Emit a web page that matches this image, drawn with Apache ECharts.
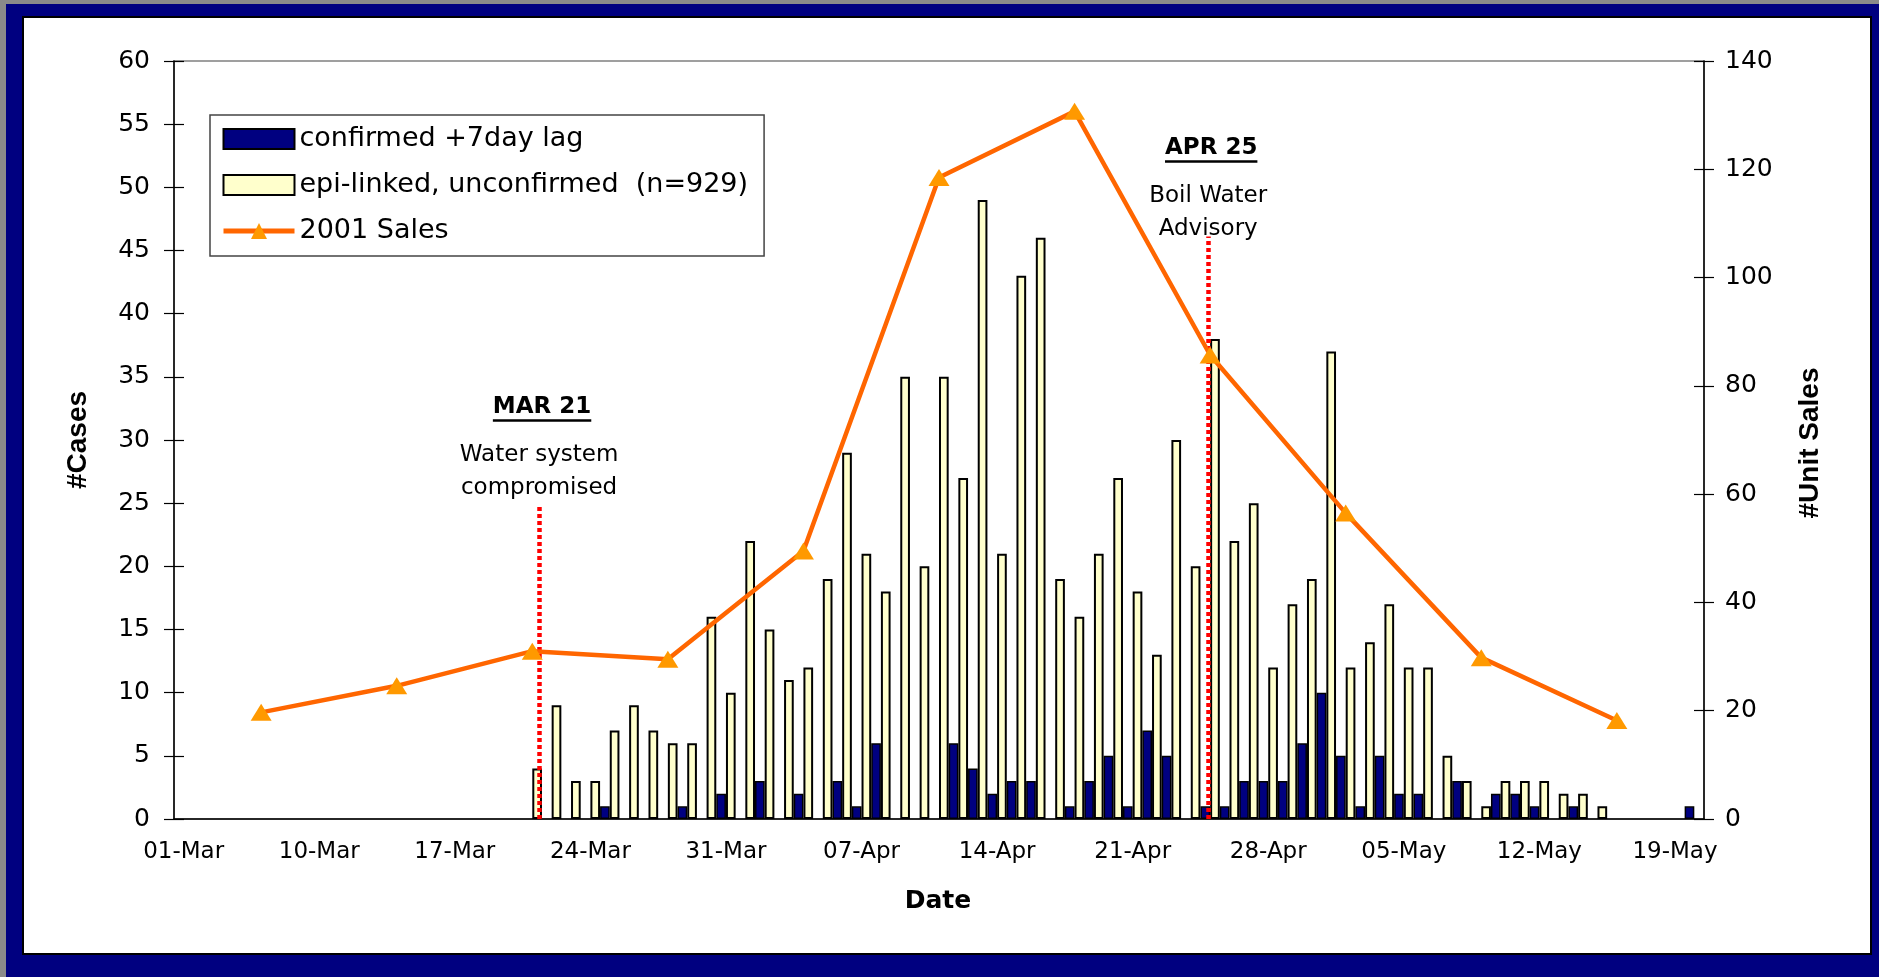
<!DOCTYPE html>
<html>
<head>
<meta charset="utf-8">
<script src="https://cdn.jsdelivr.net/npm/echarts@6/dist/echarts.min.js"></script>
<style>
html,body{margin:0;padding:0;width:1879px;height:977px;overflow:hidden;background:#000080;}
#edgeTop{position:absolute;left:0;top:0;width:1879px;height:4px;background:#8a8a8a;}
#edgeLeft{position:absolute;left:0;top:0;width:6px;height:977px;background:#8a8a8a;}
#panel{position:absolute;left:22px;top:16px;width:1846px;height:935px;background:#fff;border:2px solid #000;}
#chart{position:absolute;left:0;top:0;width:1879px;height:977px;}
</style>
</head>
<body>
<div id="edgeTop"></div>
<div id="edgeLeft"></div>
<div id="panel"></div>
<div id="chart"></div>
<script>
// ---- data ----
const categories = [
 '01-Mar','04-Mar','05-Mar','06-Mar','07-Mar','08-Mar','09-Mar','10-Mar','11-Mar','12-Mar','13-Mar','14-Mar','15-Mar','16-Mar','17-Mar',
 '18-Mar','19-Mar','20-Mar','21-Mar','22-Mar','23-Mar','24-Mar','25-Mar','26-Mar','27-Mar','28-Mar','29-Mar','30-Mar','31-Mar',
 '01-Apr','02-Apr','03-Apr','04-Apr','05-Apr','06-Apr','07-Apr','08-Apr','09-Apr','10-Apr','11-Apr','12-Apr','13-Apr','14-Apr','15-Apr',
 '16-Apr','17-Apr','18-Apr','19-Apr','20-Apr','21-Apr','22-Apr','23-Apr','24-Apr','25-Apr','26-Apr','27-Apr','28-Apr','29-Apr','30-Apr',
 '01-May','02-May','03-May','04-May','05-May','06-May','07-May','08-May','09-May','10-May','11-May','12-May','13-May','14-May','15-May',
 '16-May','17-May','18-May','19-May','20-May'
];
const confirmed = [
 0,0,0,0,0,0,0,0,0,0,0,0,0,0,0,0,0,0,
 0,0,0,0,1,0,0,0,1,0,2,0,
 3,0,2,0,3,1,6,0,0,0,6,4,
 2,3,3,0,1,3,5,1,7,5,0,1,
 1,3,3,3,6,10,5,1,5,2,2,0,
 3,0,2,2,1,0,1,0,0,0,0,0,1
];
const epiLinked = [
 0,0,0,0,0,0,0,0,0,0,0,0,0,0,0,0,0,0,
 4,9,3,3,7,9,7,6,6,16,10,22,
 15,11,12,19,29,21,18,35,20,35,27,49,
 21,43,46,19,16,21,27,18,13,30,20,38,
 22,25,12,17,19,37,12,14,17,12,12,5,
 3,1,3,3,3,2,2,1,0,0,0,0,0
];
const salesDates = ['07-Mar','14-Mar','21-Mar','28-Mar','04-Apr','11-Apr','18-Apr','25-Apr','02-May','09-May','16-May'];
const salesValues = [19.7, 24.6, 31, 29.5, 49.5, 118.5, 130.7, 85.7, 56.5, 29.8, 18.2];
const seriesNames = ['confirmed +7day lag', 'epi-linked, unconfirmed  (n=929)', '2001 Sales'];
// annotations (x in day-slot units, y in #Cases units)
const eventPos = [18.35, 52.9];
const eventTop = [24.8, 46.1];
const eventTitles = ['MAR 21', 'APR 25'];
const eventLines = [['Water system', 'compromised'], ['Boil Water', 'Advisory']];
const eventTextY = [26.2, 46.7];

const FONT = 'DejaVu Sans';
const chart = echarts.init(document.getElementById('chart'), null, {renderer: 'canvas'});

const salesData = categories.map(c => {
  const i = salesDates.indexOf(c);
  return i >= 0 ? salesValues[i] : null;
});

const yTickStyle = {color: '#000', width: 1.2};
const option = {
  animation: false,
  backgroundColor: 'transparent',
  grid: {left: 174, top: 61, right: 175, bottom: 158, show: true, borderColor: '#808080', borderWidth: 1.5, backgroundColor: 'transparent'},
  legend: {
    orient: 'vertical', left: 210, top: 115,
    data: [
      {name: seriesNames[0], icon: 'rect'},
      {name: seriesNames[1], icon: 'rect'},
      {name: seriesNames[2], lineStyle: {width: 5, color: '#FF6600'}, itemStyle: {color: '#FF9900'}}
    ],
    itemWidth: 71, itemHeight: 20, itemGap: 16,
    padding: [9, 16, 10, 11],
    borderColor: '#444', borderWidth: 1.5, backgroundColor: '#fff',
    textStyle: {fontFamily: FONT, fontSize: 27, color: '#000', lineHeight: 30}
  },
  xAxis: [
    {type: 'category', data: categories, boundaryGap: true, position: 'bottom',
     axisLine: {onZero: false, lineStyle: {color: '#000', width: 1.5}},
     axisTick: {interval: 0, length: 7, lineStyle: {color: '#000', width: 1.2}},
     axisLabel: {interval: 6, margin: 22, fontFamily: FONT, fontSize: 23, color: '#000'},
     splitLine: {show: false}},
    {type: 'value', min: -0.5, max: 78.5, show: false},
    {type: 'category', data: categories, boundaryGap: true, position: 'bottom',
     axisLine: {show: false, onZero: false},
     axisTick: {inside: true, interval: 0, length: 6, lineStyle: {color: '#000', width: 1.2}},
     axisLabel: {show: false}, splitLine: {show: false}}
  ],
  yAxis: [
    {type: 'value', min: 0, max: 60, interval: 5, position: 'left',
     axisLine: {show: true, onZero: false, lineStyle: {color: '#000', width: 1.5}},
     axisTick: {show: true, length: 10, lineStyle: yTickStyle},
     axisLabel: {margin: 24, fontFamily: FONT, fontSize: 25, color: '#000'},
     splitLine: {show: false}},
    {type: 'value', min: 0, max: 140, interval: 20, position: 'right',
     axisLine: {show: true, onZero: false, lineStyle: {color: '#000', width: 1.5}},
     axisTick: {show: true, length: 10, lineStyle: yTickStyle},
     axisLabel: {margin: 21, fontFamily: FONT, fontSize: 25, color: '#000'},
     splitLine: {show: false}},
    {type: 'value', min: 0, max: 60, interval: 5, position: 'left',
     axisLine: {show: false, onZero: false}, axisLabel: {show: false}, splitLine: {show: false},
     axisTick: {show: true, inside: true, length: 10, lineStyle: yTickStyle}},
    {type: 'value', min: 0, max: 140, interval: 20, position: 'right',
     axisLine: {show: false, onZero: false}, axisLabel: {show: false}, splitLine: {show: false},
     axisTick: {show: true, inside: true, length: 10, lineStyle: yTickStyle}}
  ],
  series: [
    {name: seriesNames[0], type: 'bar', xAxisIndex: 0, yAxisIndex: 0,
     data: confirmed.map(v => v === 0 ? '-' : v),
     barGap: '0%', barCategoryGap: '0%',
     itemStyle: {color: '#000080', borderColor: '#000', borderWidth: 1.5}, z: 2},
    {name: seriesNames[1], type: 'bar', xAxisIndex: 0, yAxisIndex: 0,
     data: epiLinked.map(v => v === 0 ? '-' : v),
     barGap: '0%', barCategoryGap: '0%',
     itemStyle: {color: '#FFFFCC', borderColor: '#000', borderWidth: 2}, z: 2},
    {name: seriesNames[2], type: 'line', xAxisIndex: 0, yAxisIndex: 1,
     data: salesData, connectNulls: true, showAllSymbol: true,
     symbol: 'triangle', symbolSize: [21, 17],
     itemStyle: {color: '#FF9900'},
     lineStyle: {color: '#FF6600', width: 4.5}, z: 5},
    {name: 'events', type: 'line', xAxisIndex: 1, yAxisIndex: 0,
     data: [[eventPos[0], 0]], symbol: 'none', lineStyle: {width: 0}, z: 4,
     markLine: {
       silent: true, symbol: ['none', 'none'], label: {show: false},
       lineStyle: {color: '#FF0000', type: [4, 3], width: 4.5},
       data: eventPos.map((x, i) => [{coord: [x, 0]}, {coord: [x, eventTop[i]]}])
     }}
  ]
};
chart.setOption(option);

// ---- text annotations and axis titles ----
const meas = document.createElement('canvas').getContext('2d');
const g = [];
g.push({type: 'text', x: 78, y: 440, rotation: Math.PI / 2, z: 10,
  style: {text: '#Cases', fontFamily: 'Liberation Sans', fontWeight: 'bold', fontSize: 28, fill: '#000', align: 'center', verticalAlign: 'middle'}});
g.push({type: 'text', x: 1810, y: 443, rotation: Math.PI / 2, z: 10,
  style: {text: '#Unit Sales', fontFamily: 'Liberation Sans', fontWeight: 'bold', fontSize: 28, fill: '#000', align: 'center', verticalAlign: 'middle'}});
g.push({type: 'text', x: 938, y: 901, z: 10,
  style: {text: 'Date', fontFamily: FONT, fontWeight: 'bold', fontSize: 25, fill: '#000', align: 'center', verticalAlign: 'middle'}});

eventPos.forEach((x, i) => {
  const p = chart.convertToPixel({seriesIndex: 3}, [x, eventTextY[i]]);
  const cx = p[0];
  const lines = eventLines[i];
  const pitch = 32.5;
  lines.forEach((t, j) => {
    const y = p[1] - pitch * (lines.length - 1 - j);
    g.push({type: 'text', x: cx, y: y, z: 10,
      style: {text: t, fontFamily: FONT, fontSize: 23, fill: '#000', align: 'center', verticalAlign: 'middle'}});
  });
  const ty = p[1] - pitch * (lines.length - 1) - 48.5;
  g.push({type: 'text', x: cx + 3, y: ty, z: 10,
    style: {text: eventTitles[i], fontFamily: FONT, fontWeight: 'bold', fontSize: 23, fill: '#000', align: 'center', verticalAlign: 'middle'}});
  meas.font = 'bold 23px "DejaVu Sans"';
  const w = meas.measureText(eventTitles[i]).width;
  g.push({type: 'line', z: 10, shape: {x1: cx + 3 - w / 2, y1: ty + 13.5, x2: cx + 3 + w / 2, y2: ty + 13.5},
    style: {stroke: '#000', lineWidth: 2.5}});
});
chart.setOption({graphic: g});
</script>
</body>
</html>
